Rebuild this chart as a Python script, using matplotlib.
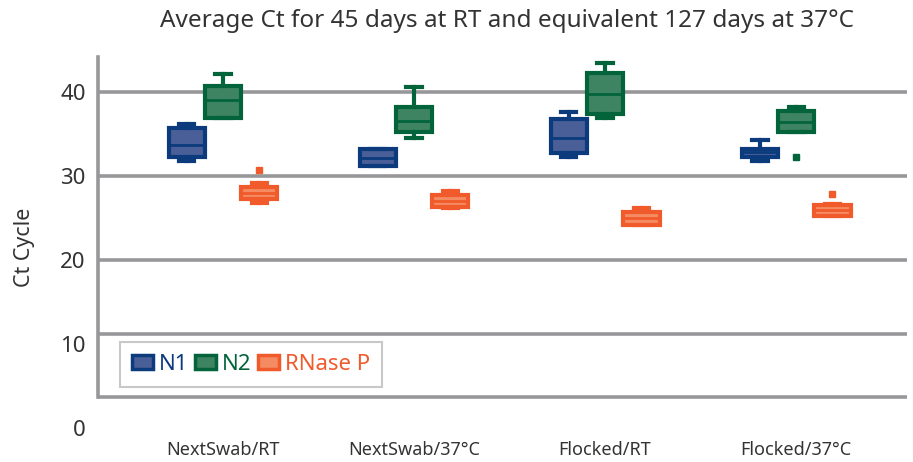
import matplotlib.pyplot as plt
from matplotlib.patches import Patch

plt.rcParams["font.family"] = ["Noto Sans", "DejaVu Sans"]

TEXT_COLOR = "#333333"
GRID_COLOR = "#97979a"

categories = ["NextSwab/RT", "NextSwab/37°C", "Flocked/RT", "Flocked/37°C"]
targets = ["N1", "N2", "RNase P"]
edge_colors = ["#0b3b7c", "#03643c", "#f15a2b"]
fill_colors = ["#4a5f98", "#3f8462", "#f58b62"]

# five-number summaries, one list per target (one value per category)
n1_low = [31.8, 31.2, 32.3, 31.8]
n1_q1 = [32.3, 31.2, 32.7, 32.3]
n1_med = [33.7, 32.2, 34.5, 32.8]
n1_q3 = [35.7, 33.2, 36.8, 33.2]
n1_high = [36.2, 33.2, 37.6, 34.3]
n1_out = [[], [], [], []]

n2_low = [36.9, 34.5, 36.9, 35.2]
n2_q1 = [36.9, 35.2, 37.4, 35.2]
n2_med = [39.0, 36.5, 39.8, 36.4]
n2_q3 = [40.7, 38.2, 42.3, 37.7]
n2_high = [42.1, 40.6, 43.5, 38.2]
n2_out = [[], [], [], [32.3]]

rp_low = [26.8, 26.2, 24.2, 25.2]
rp_q1 = [27.3, 26.3, 24.2, 25.2]
rp_med = [28.0, 27.0, 25.0, 25.9]
rp_q3 = [28.7, 27.7, 25.7, 26.5]
rp_high = [29.2, 28.2, 26.2, 26.7]
rp_out = [[30.7], [], [], [27.9]]

series = [
    (n1_low, n1_q1, n1_med, n1_q3, n1_high, n1_out),
    (n2_low, n2_q1, n2_med, n2_q3, n2_high, n2_out),
    (rp_low, rp_q1, rp_med, rp_q3, rp_high, rp_out),
]

fig = plt.figure(figsize=(9.13, 4.62), dpi=100)
W, H = 913, 462
# axes placed in pixels: left 98, right 907, top 57, bottom 437
ax = fig.add_axes([98 / W, 1 - 437 / H, (907 - 98) / W, (437 - 57) / H])

y_top = (428 - 57) / 8.4
y_bot = (428 - 437) / 8.4
ax.set_ylim(y_bot, y_top)
ax.set_xlim(-0.654, 3.58)

for v in [20, 30, 40]:
    ax.axhline(v, color=GRID_COLOR, lw=2.6, zorder=1)
# the reference draws its 10 line and the frame bottom a little off the scale
ax.axhline(11.2, color=GRID_COLOR, lw=2.6, zorder=1)
ax.axhline(3.7, color=GRID_COLOR, lw=2.6, zorder=1)

offsets = [-0.19, 0.0, 0.19]
for k, (lo, q1, med, q3, hi, out) in enumerate(series):
    stats = []
    for i in range(len(categories)):
        stats.append({"whislo": lo[i], "q1": q1[i], "med": med[i], "q3": q3[i],
                      "whishi": hi[i], "fliers": out[i]})
    pos = [i + offsets[k] for i in range(len(categories))]
    ec, fc = edge_colors[k], fill_colors[k]
    ax.bxp(stats, positions=pos, widths=0.19, patch_artist=True, showfliers=True,
           boxprops=dict(facecolor=fc, edgecolor=ec, linewidth=3),
           medianprops=dict(color=ec, linewidth=2),
           whiskerprops=dict(color=ec, linewidth=3),
           capprops=dict(color=ec, linewidth=3),
           capwidths=0.08,
           flierprops=dict(marker="s", markersize=5, markerfacecolor=ec,
                           markeredgecolor=ec),
           zorder=3)

for s in ["top", "right", "bottom"]:
    ax.spines[s].set_visible(False)
ax.spines["left"].set_color(GRID_COLOR)
ax.spines["left"].set_linewidth(2.6)
ax.spines["left"].set_bounds(3.7, y_top)

ax.set_yticks([0, 10, 20, 30, 40])
ax.tick_params(axis="y", length=0, pad=9, labelsize=16, colors=TEXT_COLOR)
ax.set_xticks(range(len(categories)))
ax.set_xticklabels(categories)
ax.tick_params(axis="x", length=0, pad=3, labelsize=13, colors=TEXT_COLOR)
ax.set_ylabel("Ct Cycle", fontsize=15.5, color=TEXT_COLOR, labelpad=18)

fig.text(507 / W, 1 - 21 / H, "Average Ct for 45 days at RT and equivalent 127 days at 37°C",
         ha="center", va="center", fontsize=17.5, color=TEXT_COLOR)

handles = [Patch(facecolor=fill_colors[k], edgecolor=edge_colors[k], linewidth=2.5)
           for k in range(3)]
leg = ax.legend(handles, targets, ncol=3, loc="lower left",
                bbox_to_anchor=((120 - 98) / (907 - 98), (437 - 387) / (437 - 57)),
                fontsize=16, labelcolor=edge_colors, frameon=True, fancybox=False,
                edgecolor="#bbbbbb", handlelength=0.95, handleheight=0.6,
                handletextpad=0.25, columnspacing=0.3, borderpad=0.55, borderaxespad=0)
leg.get_frame().set_linewidth(1.5)

fig.savefig("out.png", dpi=100)
